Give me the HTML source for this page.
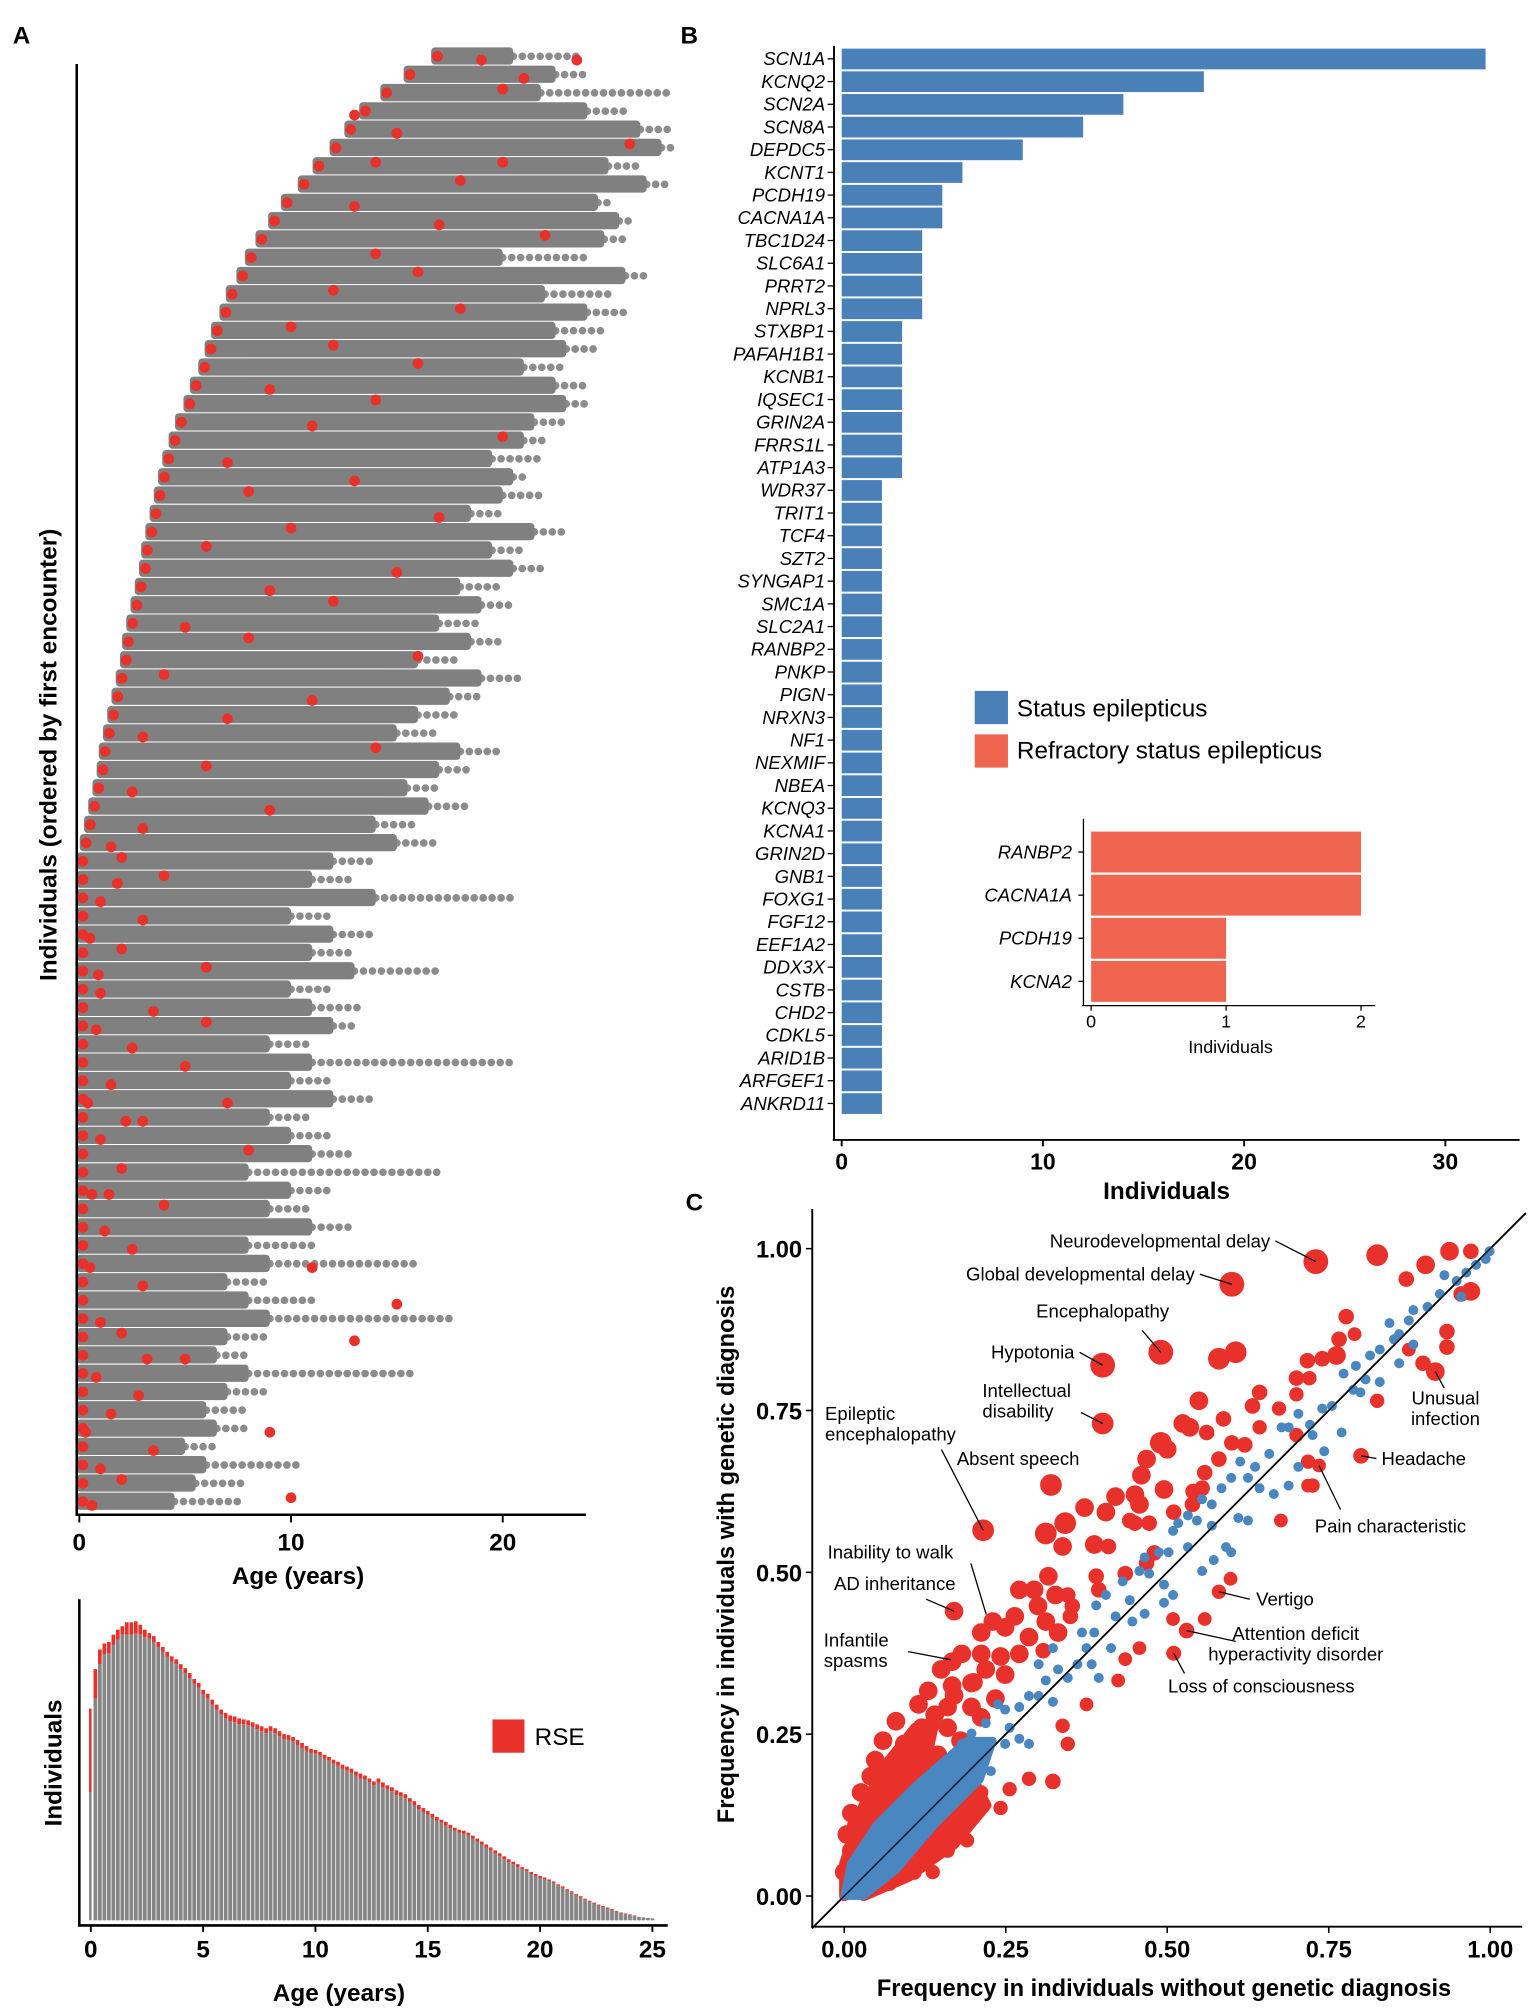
<!DOCTYPE html>
<html><head><meta charset="utf-8">
<style>
html,body{margin:0;padding:0;background:#fff;}
svg{display:block;font-family:"Liberation Sans",Arial,sans-serif;}
.b{font-weight:bold;}
.gl{font-style:italic;font-size:14.5px;}
.lab{font-size:14.5px;}
</style></head>
<body>
<svg id="fig" width="1535" height="2015" viewBox="0 0 1200 1575" preserveAspectRatio="none" xmlns="http://www.w3.org/2000/svg">
  <rect x="0" y="0" width="1200" height="1575" fill="#fff"/>
  <text x="10" y="34" class="b" font-size="19">A</text>
  <text x="532" y="34" class="b" font-size="19">B</text>
  <text x="536" y="946" class="b" font-size="19">C</text>

  <g id="pa"></g>
  <g id="ph"></g>
  <g id="pb"></g>
  <g id="pc"></g>

  <line x1="60" y1="50" x2="60" y2="1184" stroke="#000" stroke-width="2"/>
  <line x1="59" y1="1184" x2="458" y2="1184" stroke="#000" stroke-width="2"/>
  <text transform="translate(44,590) rotate(-90)" text-anchor="middle" class="b" font-size="19">Individuals (ordered by first encounter)</text>
  <text x="233" y="1238" text-anchor="middle" class="b" font-size="19">Age (years)</text>

  <line x1="62" y1="1250" x2="62" y2="1505" stroke="#000" stroke-width="2"/>
  <line x1="61" y1="1505" x2="522" y2="1505" stroke="#000" stroke-width="2"/>
  <text transform="translate(48,1378) rotate(-90)" text-anchor="middle" class="b" font-size="19">Individuals</text>
  <text x="265" y="1564" text-anchor="middle" class="b" font-size="19">Age (years)</text>
  <rect x="385" y="1344" width="25" height="26" fill="#e8312a"/>
  <text x="418" y="1364" font-size="19">RSE</text>

  <line x1="652" y1="36" x2="652" y2="891" stroke="#000" stroke-width="1.5"/>
  <line x1="651" y1="891" x2="1188" y2="891" stroke="#000" stroke-width="1.5"/>
  <text x="912" y="937" text-anchor="middle" class="b" font-size="19">Individuals</text>
  <rect x="762" y="540" width="26" height="26" fill="#4a80b8"/>
  <text x="795" y="560" font-size="19">Status epilepticus</text>
  <rect x="762" y="574" width="26" height="26" fill="#f0654f"/>
  <text x="795" y="593" font-size="19">Refractory status epilepticus</text>
  <line x1="847" y1="640" x2="847" y2="786" stroke="#000" stroke-width="1"/>
  <line x1="846" y1="786" x2="1075" y2="786" stroke="#000" stroke-width="1"/>
  <text x="962" y="823" text-anchor="middle" font-size="14">Individuals</text>

  <line x1="635" y1="945" x2="635" y2="1506" stroke="#000" stroke-width="1.5"/>
  <line x1="634" y1="1506" x2="1190" y2="1506" stroke="#000" stroke-width="1.5"/>
  <text transform="translate(574,1215) rotate(-90)" text-anchor="middle" class="b" font-size="18.5">Frequency in individuals with genetic diagnosis</text>
  <text x="910" y="1560" text-anchor="middle" class="b" font-size="18.5">Frequency in individuals without genetic diagnosis</text>
</svg>
<script>
const NS='http://www.w3.org/2000/svg';
function mk(tag,attrs,parent){const e=document.createElementNS(NS,tag);for(const k in attrs)e.setAttribute(k,attrs[k]);parent.appendChild(e);return e;}

const rowOnset=[16.8,15.5,14.4,13.4,12.7,12.0,11.2,10.5,9.7,9.1,8.5,8.0,7.6,7.1,6.8,6.4,6.1,5.8,5.4,5.1,4.7,4.4,4.1,3.9,3.7,3.5,3.3,3.1,3.0,2.8,2.6,2.4,2.2,2.1,1.9,1.7,1.5,1.3,1.1,1.0,0.8,0.6,0.4,0.2,
0.05,0.05,0.05,0.05,0.05,0.05,0.05,0.05,0.05,0.05,0.05,0.05,0.05,0.05,0.05,0.05,0.05,0.05,0.05,0.05,0.05,0.05,0.05,0.05,0.05,0.05,0.05,0.05,0.05,0.05,0.05,0.05,0.05,0.05,0.05,0.05];
const rowDenseEnd=[20.5,22.5,21.8,24,26.5,27.5,25,26.8,24.5,25.5,24.8,20,25.8,22,24,22.5,23,21,22.5,23,21.5,21,19.5,20.5,20,18.5,21.5,19.5,20.5,18,19,17,18.5,16,19,17.5,16,15,18,17,15.5,16.5,14,15,
12,11,14,10,12,11,13,10,11,12,9,11,10,12,9,10,11,8,10,9,11,8,9,7,8,9,7,6.5,8,7,6,6.5,5,6,5.5,4.5];
const rowSparseEnd=[23.5,24,28,26,28,28,26.5,28,25,26,26,24,27,25,26,25,24.5,23,24,24,23,22,22,21,22,20,23,21,22,20,20.5,19,20,18,21,19,18,17,20,18.5,17,18.5,16,17,
14,13,20.5,12,14,13,17,12,13.5,13,11,20.5,12,14,11,12,13,17,12,11,13,11,16,9,11,17.5,9,8,16,9,8,8,6.5,10.5,8,7.5];
const rseDots=[[19,0],[23.5,0],[21,1],[20,2],[13,3],[15,4],[26,5],[14,6],[20,6],[18,7],[13,8],[17,9],[22,10],[14,11],[16,12],[12,13],[18,14],[10,15],[12,16],[16,17],[9,18],[14,19],[11,20],[20,21],[7,22],[13,23],[8,24],[17,25],[10,26],[6,27],[15,28],[9,29],[12,30],[5,31],[8,32],[16,33],[4,34],[11,35],[7,36],[3,37],[14,38],[6,39],[2.5,40],[9,41],[3,42],[1.5,43],[2,44],[4,45],[1,46],[3,47],[0.5,48],[2,49],[6,50],[1,51],[3.5,52],[0.8,53],[2.5,54],[5,55],[1.5,56],[0.4,57],[3,58],[1,59],[8,60],[2,61],[0.6,62],[4,63],[1.2,64],[2.5,65],[0.5,66],[3,67],[15,68],[1,69],[2,70],[5,71],[0.8,72],[2.8,73],[1.5,74],[0.3,75],[3.5,76],[1,77],[2,78],[0.6,79],[10,79],[9,75],[13,70],[11,66],[7,57],[6,53],[1.8,45],[0.9,50],[2.2,58],[1.4,62],[3.2,71]];
const scatterTicks=[0,10,20];

const histGray=[260,450,520,540,542,560,570,580,580,580,582,580,575,572,565,555,545,535,525,520,510,502,492,480,472,458,450,438,428,418,410,404,402,398,398,396,392,388,384,380,384,380,374,368,366,364,356,350,344,340,338,334,328,324,318,314,308,304,300,294,288,286,280,274,280,270,266,262,254,252,248,240,234,226,220,214,208,202,198,192,186,182,178,176,172,166,160,154,148,142,136,130,124,118,114,108,104,100,94,90,86,
84,80,76,70,66,60,56,50,46,42,38,34,30,27,24,21,18,15,13,11,9,7,6,5,4];
const histRed=[170,60,30,22,23,20,20,17,25,25,25,20,15,11,12,10,10,10,11,10,10,10,10,10,10,10,10,10,10,10,11,12,12,12,10,10,10,10,10,10,10,10,10,10,10,8,10,10,10,8,8,8,8,8,8,8,8,8,8,8,10,8,8,8,8,10,8,8,10,8,8,8,8,8,8,8,8,8,6,8,8,6,6,6,6,6,6,6,6,6,6,6,6,6,5,6,4,4,4,4,4,
3,3,3,3,3,3,3,3,3,2,2,2,2,2,2,2,1,1,1,1,1,0,0,0,0];
const histTicks=[0,5,10,15,20,25];

const genes=['SCN1A','KCNQ2','SCN2A','SCN8A','DEPDC5','KCNT1','PCDH19','CACNA1A','TBC1D24','SLC6A1','PRRT2','NPRL3','STXBP1','PAFAH1B1','KCNB1','IQSEC1','GRIN2A','FRRS1L','ATP1A3','WDR37','TRIT1','TCF4','SZT2','SYNGAP1','SMC1A','SLC2A1','RANBP2','PNKP','PIGN','NRXN3','NF1','NEXMIF','NBEA','KCNQ3','KCNA1','GRIN2D','GNB1','FOXG1','FGF12','EEF1A2','DDX3X','CSTB','CHD2','CDKL5','ARID1B','ARFGEF1','ANKRD11'];
const geneCounts=[32,18,14,12,9,6,5,5,4,4,4,4,3,3,3,3,3,3,3,2,2,2,2,2,2,2,2,2,2,2,2,2,2,2,2,2,2,2,2,2,2,2,2,2,2,2,2,2];
const barTicks=[0,10,20,30];
const insetGenes=['RANBP2','CACNA1A','PCDH19','KCNA2'];
const insetCounts=[2,2,1,1];
const insetTicks=[0,1,2];

const redPts=[[0.73,0.98,3],[0.60,0.945,3],[0.49,0.84,3],[0.40,0.82,3],[0.40,0.73,2.5],[0.215,0.565,2.5],[0.32,0.635,2.5],[0.17,0.44,2],[0.80,0.68,1.5],[0.735,0.665,1.2],[0.58,0.47,1.3],[0.53,0.41,1.5],[0.51,0.375,1.4],[0.915,0.81,2],
[0.825,0.99,2.5],[0.937,0.996,2],[0.97,0.996,1.5],[0.90,0.975,2],[0.87,0.953,1.5],[0.97,0.934,2],[0.955,0.93,1.5],[0.606,0.84,2.5],[0.58,0.83,2.5],
[0.777,0.895,1.5],[0.79,0.868,1.2],[0.766,0.86,1.5],[0.762,0.835,2],[0.717,0.827,1.5],[0.74,0.83,1.5],[0.933,0.872,1.5],[0.933,0.848,1.5],[0.896,0.823,1.5],
[0.70,0.80,1.5],[0.72,0.80,1.3],[0.70,0.775,1.3],[0.643,0.778,1.5],[0.632,0.757,1.5],[0.673,0.753,1.3],[0.825,0.765,1.3],
[0.549,0.765,2],[0.524,0.73,2],[0.535,0.724,2],[0.587,0.737,1.5],[0.561,0.716,1.5],[0.6,0.70,1.5],[0.62,0.697,1.5],[0.643,0.724,1.3],[0.70,0.712,1.3],[0.718,0.671,1.3],[0.725,0.634,1.3],
[0.49,0.70,2.5],[0.50,0.69,2],[0.468,0.675,2],[0.46,0.65,2],[0.45,0.62,2],[0.495,0.628,2],[0.54,0.625,1.5],[0.554,0.63,1.5],[0.58,0.675,1.5],[0.558,0.654,1.5],[0.539,0.605,1.5],
[0.372,0.60,2],[0.42,0.617,2],[0.457,0.605,2],[0.442,0.58,1.5],[0.405,0.593,2],[0.342,0.576,2.5],[0.312,0.56,2.5],[0.338,0.54,2],[0.387,0.543,2],[0.409,0.54,1.5],[0.45,0.576,1.5],[0.472,0.576,1.5],[0.51,0.593,1.5],[0.48,0.53,1.5],[0.468,0.514,1.5],[0.435,0.498,1.5],
[0.39,0.494,1.5],[0.394,0.473,1.5],[0.316,0.494,2],[0.271,0.473,2],[0.294,0.473,2],[0.30,0.448,2],[0.327,0.465,2],[0.346,0.465,1.5],[0.353,0.448,1.5],[0.264,0.432,2],[0.23,0.424,2],[0.212,0.407,2],[0.249,0.415,2],[0.286,0.40,2],[0.312,0.424,2],[0.331,0.407,2],[0.35,0.432,1.5],[0.308,0.379,1.5],[0.271,0.374,2],[0.242,0.37,2],[0.212,0.374,2],[0.182,0.374,2],[0.167,0.362,2],
[0.219,0.35,2],[0.249,0.342,2],[0.197,0.329,2],[0.167,0.325,2],[0.13,0.317,2],[0.115,0.296,2],[0.16,0.292,2],[0.197,0.292,2],[0.234,0.305,2],[0.212,0.276,2],[0.16,0.26,2],[0.123,0.243,2],[0.093,0.235,2],[0.1,0.21,2],[0.145,0.218,2],[0.048,0.21,2],[0.063,0.193,2],[0.041,0.185,2],[0.026,0.16,2],[0.011,0.128,2],[0.004,0.095,2],[0.011,0.07,2],[0.019,0.11,2],[0.07,0.152,2],[0.108,0.177,2],[0.086,0.119,2],[0.041,0.078,2],[0.0,0.037,2],[0.048,0.02,2],[0.093,0.053,1.5],[0.123,0.086,1.5],
[0.338,0.263,1.3],[0.346,0.235,1.3],[0.323,0.177,1.5],[0.286,0.181,1.3],[0.256,0.165,1.3],[0.242,0.136,1.3],[0.212,0.16,1.3],[0.19,0.086,1.3],[0.16,0.07,1.3],[0.137,0.037,1.3],[0.375,0.296,1.2],[0.424,0.333,1.2],[0.435,0.366,1.2],[0.457,0.383,1.2],[0.509,0.428,1.2],[0.558,0.428,1.2],[0.598,0.49,1.2],[0.676,0.58,1.2],[0.718,0.634,1.2],[0.874,0.844,1.2],[0.108,0.037,1.5],[0.07,0.02,1.5],
[0.03,0.12,2],[0.06,0.24,2],[0.08,0.27,2],[0.05,0.15,2],[0.14,0.28,2],[0.17,0.31,2],[0.12,0.26,2],[0.09,0.18,2],[0.13,0.2,2],[0.18,0.24,2],[0.2,0.33,2],[0.15,0.35,2],[0.02,0.06,2],[0.06,0.1,2],[0.1,0.14,2]];
const redCloud=[[0,0],[0,0.05],[0.03,0.14],[0.07,0.21],[0.11,0.26],[0.14,0.27],[0.12,0.18],[0.1,0.11],[0.06,0.05],[0.03,0.01]];
const redCloudLow=[[0.03,0],[0.1,0.03],[0.17,0.08],[0.22,0.14],[0.2,0.18],[0.12,0.1],[0.05,0.03]];
const bluePts=[[0.999,0.996],[0.993,0.984],[0.978,0.975],[0.963,0.963],[0.948,0.95],[0.929,0.959],[0.922,0.93],[0.955,0.926],[0.903,0.91],[0.881,0.905],[0.874,0.889],[0.859,0.868],[0.844,0.885],[0.851,0.86],[0.881,0.852],[0.829,0.844],[0.814,0.835],[0.859,0.823],[0.792,0.819],[0.773,0.807],[0.807,0.798],[0.829,0.794],[0.788,0.782],[0.799,0.778],[0.74,0.753],[0.755,0.757],[0.721,0.728],[0.703,0.745],[0.677,0.724],[0.688,0.724],[0.725,0.712],[0.77,0.716],[0.743,0.687],[0.703,0.663],[0.658,0.683],[0.636,0.663],[0.625,0.646],[0.613,0.671],[0.599,0.646],[0.584,0.63],[0.643,0.63],[0.665,0.621],[0.688,0.634],[0.569,0.605],[0.554,0.613],[0.625,0.58],[0.61,0.584],[0.546,0.58],[0.532,0.588],[0.517,0.576],[0.509,0.564],[0.569,0.572],[0.591,0.539],[0.599,0.531],[0.572,0.519],[0.554,0.502],[0.532,0.539],[0.502,0.531],[0.487,0.531],[0.465,0.523],[0.457,0.502],[0.472,0.498],[0.495,0.481],[0.509,0.465],[0.495,0.453],[0.431,0.486],[0.405,0.465],[0.39,0.449],[0.446,0.424],[0.465,0.436],[0.442,0.457],[0.42,0.432],[0.387,0.407],[0.368,0.407],[0.375,0.383],[0.413,0.383],[0.361,0.358],[0.383,0.358],[0.346,0.337],[0.394,0.337],[0.323,0.383],[0.301,0.358],[0.331,0.35],[0.312,0.333],[0.301,0.309],[0.323,0.3],[0.286,0.309],[0.271,0.292],[0.249,0.288],[0.238,0.296],[0.219,0.267],[0.256,0.26],[0.271,0.243],[0.286,0.235],[0.249,0.235],[0.219,0.235],[0.197,0.251],[0.182,0.235],[0.16,0.21],[0.204,0.2],[0.227,0.193],[0.182,0.177],[0.16,0.16],[0.138,0.169],[0.13,0.136],[0.1,0.119],[0.086,0.095],[0.063,0.078],[0.048,0.053],[0.033,0.037],[0.019,0.02],[0.007,0.008],[0.108,0.152],[0.123,0.119],[0.078,0.07],[0.093,0.095],[0.145,0.193]];
const blueBand=[[0,0],[0.01,0.05],[0.05,0.11],[0.11,0.17],[0.19,0.24],[0.23,0.24],[0.21,0.18],[0.14,0.11],[0.08,0.04],[0.03,0]];
const annotations=[
 {t:['Neurodevelopmental delay'],tx:993,ty:975,a:'end',px:0.73,py:0.98},
 {t:['Global developmental delay'],tx:934,ty:1001,a:'end',px:0.60,py:0.945},
 {t:['Encephalopathy'],tx:862,ty:1030,a:'middle',px:0.49,py:0.84,lx:893,ly:1040},
 {t:['Hypotonia'],tx:840,ty:1062,a:'end',px:0.40,py:0.82},
 {t:['Intellectual','disability'],tx:768,ty:1092,a:'start',px:0.40,py:0.73,lx:845,ly:1104},
 {t:['Epileptic','encephalopathy'],tx:645,ty:1110,a:'start',px:0.215,py:0.565,lx:736,ly:1133},
 {t:['Absent speech'],tx:748,ty:1145,a:'start',px:0.32,py:0.635,nol:1},
 {t:['Inability to walk'],tx:647,ty:1218,a:'start',px:0.22,py:0.46,lx:759,ly:1222,ex:771,ey:1262},
 {t:['AD inheritance'],tx:652,ty:1243,a:'start',px:0.17,py:0.44,lx:724,ly:1250},
 {t:['Infantile','spasms'],tx:644,ty:1287,a:'start',px:0.165,py:0.365,lx:710,ly:1291},
 {t:['Unusual','infection'],tx:1130,ty:1098,a:'middle',px:0.915,py:0.81,lx:1129,ly:1085},
 {t:['Headache'],tx:1080,ty:1145,a:'start',px:0.80,py:0.68,lx:1076,ly:1140},
 {t:['Pain characteristic'],tx:1087,ty:1198,a:'middle',px:0.735,py:0.665,lx:1048,ly:1180},
 {t:['Vertigo'],tx:982,ty:1255,a:'start',px:0.58,py:0.47,lx:977,ly:1250},
 {t:['Attention deficit','hyperactivity disorder'],tx:1013,ty:1282,a:'middle',px:0.53,py:0.41,lx:966,ly:1283},
 {t:['Loss of consciousness'],tx:986,ty:1323,a:'middle',px:0.51,py:0.375,lx:926,ly:1308}];
const cTicks=[0,0.25,0.5,0.75,1.0];
const cTickLabels=['0.00','0.25','0.50','0.75','1.00'];

const pa=document.getElementById('pa');
const ax=a=>62+16.55*a;
const rowY=i=>44+i*14.3;
for(let i=0;i<rowOnset.length;i++){
  const y=rowY(i);
  const sp=mk('line',{x1:ax(rowDenseEnd[i]),y1:y,x2:ax(rowSparseEnd[i]),y2:y,stroke:'#8c8c8c','stroke-width':6,'stroke-dasharray':'0 7','stroke-linecap':'round'},pa);
  
  
  const dn=mk('rect',{x:ax(rowOnset[i])-3,y:y-7,width:Math.max(2,ax(rowDenseEnd[i])-ax(rowOnset[i])+3),height:13.5,rx:3,fill:'#808080'},pa);
  
  
  const od=mk('circle',{cx:ax(rowOnset[i])+2,cy:y,r:4.2,fill:'#e8312a'},pa);
  
  
}
rseDots.forEach(d=>{
  const c=mk('circle',{cx:ax(d[0]),cy:rowY(d[1])+(d[0]%2?3:-3),r:4.2,fill:'#e8312a'},pa);
  
  
});
scatterTicks.forEach(t=>{
  const l=mk('line',{x1:ax(t),y1:1184,x2:ax(t),y2:1190,stroke:'#000','stroke-width':1.5},pa);
  
  
  const tx=mk('text',{x:ax(t),y:1212,'text-anchor':'middle','font-size':19,'font-weight':'bold'},pa);
  tx.textContent=t;
  
  
});

const ph=document.getElementById('ph');
const hx=a=>71+17.56*a;
const hBase=1501, hS=0.385;
histGray.forEach((g,i)=>{
  const age=i*0.2, x=hx(age)-1.4, w=i===0?2:2.9;
  const gr=mk('rect',{x:x,y:hBase-g*hS,width:w,height:g*hS,fill:'#858585'},ph);
  
  
  const rh=histRed[i]*hS;
  if(rh>0){
    const rr=mk('rect',{x:x,y:hBase-g*hS-rh,width:w,height:rh,fill:'#e8312a'},ph);
    
    
  }
});
histTicks.forEach(t=>{
  const l=mk('line',{x1:hx(t),y1:1505,x2:hx(t),y2:1510,stroke:'#000','stroke-width':1.5},ph);
  
  
  const tx=mk('text',{x:hx(t),y:1530,'text-anchor':'middle','font-size':19,'font-weight':'bold'},ph);
  tx.textContent=t;
  
  
});

const pb=document.getElementById('pb');
const bx=v=>658+15.73*v;
const by=i=>46+i*17.75;
genes.forEach((g,i)=>{
  const r=mk('rect',{x:bx(0),y:by(i)-8,width:bx(geneCounts[i])-bx(0),height:16.2,fill:'#4a80b8'},pb);
  
  
  const t=mk('text',{x:645,y:by(i)+5,'text-anchor':'end',class:'gl'},pb);
  t.textContent=g;
  
  
  const tk=mk('line',{x1:647,y1:by(i),x2:652,y2:by(i),stroke:'#000','stroke-width':1},pb);
  
  
});
barTicks.forEach(t=>{
  const l=mk('line',{x1:bx(t),y1:891,x2:bx(t),y2:896,stroke:'#000','stroke-width':1.5},pb);
  
  
  const tx=mk('text',{x:bx(t),y:914,'text-anchor':'middle','font-size':18,'font-weight':'bold'},pb);
  tx.textContent=t;
  
  
});
const ix=v=>853+105.5*v;
const iy=i=>666+i*33.7;
insetGenes.forEach((g,i)=>{
  const r=mk('rect',{x:ix(0),y:iy(i)-16,width:ix(insetCounts[i])-ix(0),height:32,fill:'#f0654f'},pb);
  
  
  const t=mk('text',{x:838,y:iy(i)+5,'text-anchor':'end',class:'gl'},pb);
  t.textContent=g;
  
  
  const tk=mk('line',{x1:843,y1:iy(i),x2:847,y2:iy(i),stroke:'#000','stroke-width':1},pb);
  
  
});
insetTicks.forEach(t=>{
  const l=mk('line',{x1:ix(t),y1:786,x2:ix(t),y2:790,stroke:'#000','stroke-width':1},pb);
  
  
  const tx=mk('text',{x:ix(t),y:803,'text-anchor':'middle','font-size':14},pb);
  tx.textContent=t;
  
  
});

const pc=document.getElementById('pc');
const cx=v=>660+505*v;
const cy=v=>1482-506*v;
const diag=mk('line',{x1:cx(-0.05),y1:cy(-0.05),x2:cx(1.055),y2:cy(1.055),stroke:'#000','stroke-width':1.4},pc);


const rc=mk('polygon',{points:redCloud.map(p=>cx(p[0])+','+cy(p[1])).join(' '),fill:'#e8312a',stroke:'#e8312a','stroke-width':8,'stroke-linejoin':'round'},pc);


const rc2=mk('polygon',{points:redCloudLow.map(p=>cx(p[0])+','+cy(p[1])).join(' '),fill:'#e8312a',stroke:'#e8312a','stroke-width':8,'stroke-linejoin':'round'},pc);


redPts.forEach(p=>{
  const c=mk('circle',{cx:cx(p[0]),cy:cy(p[1]),r:2.5+2.4*p[2],fill:'#e8312a'},pc);
  
  
});
const bb=mk('polygon',{points:blueBand.map(p=>cx(p[0])+','+cy(p[1])).join(' '),fill:'#4a86bf','stroke':'#4a86bf','stroke-width':6,'stroke-linejoin':'round'},pc);


bluePts.forEach(p=>{
  const c=mk('circle',{cx:cx(p[0]),cy:cy(p[1]),r:3.9,fill:'#4a86bf'},pc);
  
  
});
const diag2=mk('line',{x1:cx(-0.05),y1:cy(-0.05),x2:cx(1.055),y2:cy(1.055),stroke:'#000','stroke-width':1.2,'stroke-opacity':0.8},pc);


annotations.forEach(a=>{
  if(!a.nol){
    let sx,sy;
    if(a.lx!==undefined){sx=a.lx;sy=a.ly;}
    else{sx=a.a==='end'?a.tx+4:a.tx-4;sy=a.ty-5;}
    const ex=a.ex!==undefined?a.ex:cx(a.px), ey=a.ey!==undefined?a.ey:cy(a.py);
    const l=mk('line',{x1:sx,y1:sy,x2:ex,y2:ey,stroke:'#000','stroke-width':1},pc);
    
    
  }
  a.t.forEach((s,k)=>{
    const t=mk('text',{x:a.tx,y:a.ty+k*16,'text-anchor':a.a,class:'lab'},pc);
    t.textContent=s;
    
    
  });
});
cTicks.forEach((t,i)=>{
  const l=mk('line',{x1:cx(t),y1:1506,x2:cx(t),y2:1511,stroke:'#000','stroke-width':1.2},pc);
  
  
  const tx=mk('text',{x:cx(t),y:1530,'text-anchor':'middle','font-size':18.5,'font-weight':'bold'},pc);
  tx.textContent=cTickLabels[i];
  
  
  const l2=mk('line',{x1:630,y1:cy(t),x2:635,y2:cy(t),stroke:'#000','stroke-width':1.2},pc);
  
  
  const ty=mk('text',{x:627,y:cy(t)+7,'text-anchor':'end','font-size':18.5,'font-weight':'bold'},pc);
  ty.textContent=cTickLabels[i];
  
  
});
</script>
</body></html>
